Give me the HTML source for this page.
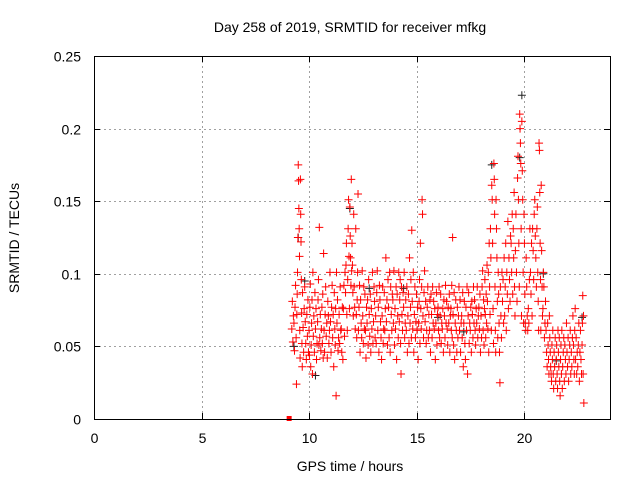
<!DOCTYPE html>
<html><head><meta charset="utf-8"><style>
body{margin:0;background:#fff}
svg text{font-family:"Liberation Sans",sans-serif;font-size:14px;fill:#000}
</style></head><body>
<svg id="chart" width="640" height="480" viewBox="0 0 640 480" xmlns="http://www.w3.org/2000/svg">
<rect width="640" height="480" fill="#fff"/>
<text x="350" y="32" text-anchor="middle">Day 258 of 2019, SRMTID for receiver mfkg</text>
<text x="350" y="471" text-anchor="middle">GPS time / hours</text>
<text transform="translate(19,238) rotate(-90)" text-anchor="middle">SRMTID / TECUs</text>
<g id="grid"></g>
<g id="ticks"></g>
<g id="marks"></g>
<rect x="94.5" y="56.5" width="516" height="363" fill="none" stroke="#000" stroke-width="1"/>
</svg>
<script>
const xTicks=[0,5,10,15,20];
const yTicks=[0,0.05,0.1,0.15,0.2,0.25];
const yTickLabels=["0","0.05","0.1","0.15","0.2","0.25"];
const hours=[9.2,9.3,9.4,9.5,9.6,9.7,9.8,9.9,10.0,10.1,10.2,10.3,10.4,10.5,10.6,10.7,10.8,10.9,11.0,11.1,11.2,11.3,11.4,11.5,11.6,11.7,11.8,11.9,12.0,12.1,12.2,12.3,12.4,12.5,12.6,12.7,12.8,12.9,13.0,13.1,13.2,13.3,13.4,13.5,13.6,13.7,13.8,13.9,14.0,14.1,14.2,14.3,14.4,14.5,14.6,14.7,14.8,14.9,15.0,15.1,15.2,15.3,15.4,15.5,15.6,15.7,15.8,15.9,16.0,16.1,16.2,16.3,16.4,16.5,16.6,16.7,16.8,16.9,17.0,17.1,17.2,17.3,17.4,17.5,17.6,17.7,17.8,17.9,18.0,18.1,18.2,18.3,18.4,18.5,18.6,18.7,18.8,18.9,19.0,19.1,19.2,19.3,19.4,19.5,19.6,19.7,19.8,19.9,20.0,20.1,20.2,20.3,20.4,20.5,20.6,20.7,20.8,20.9,21.0,21.1,21.2,21.3,21.4,21.5,21.6,21.7,21.8,21.9,22.0,22.1,22.2,22.3,22.4,22.5,22.6,22.7];
const srmtid=[[.062,.081,.053,.071],[.066,.047,.077,.092],[.056,.024,.072,.086,.101,.125],[.175,.164,.145,.131,.112,.061,.042],[.165,.141,.122,.096,.073,.052,.036],[.087,.063,.046,.076],[.091,.067,.052,.041],[.072,.057,.082,.046],[.061,.044,.077,.093,.036],[.051,.066,.082,.031,.101],[.057,.071,.046,.087],[.062,.076,.041,.052],[.067,.082,.096,.051,.132],[.056,.072,.047,.062],[.077,.052,.086,.042,.114],[.061,.046,.072,.091],[.057,.066,.042,.081],[.071,.052,.061,.101],[.067,.046,.077,.092],[.056,.072,.036,.087],[.062,.051,.076,.016,.101],[.066,.082,.047,.056],[.072,.052,.091,.061],[.062,.046,.077,.041],[.076,.092,.057,.101],[.087,.106,.121,.072,.061],[.096,.131,.151,.112,.076],[.146,.126,.111,.092,.165,.102],[.121,.106,.087,.071,.141],[.091,.077,.062,.131],[.072,.056,.082,.101,.155],[.061,.077,.092,.046],[.082,.066,.056,.102],[.071,.052,.091,.062],[.086,.061,.042,.077],[.066,.082,.051,.096],[.072,.057,.086,.046],[.076,.062,.101,.052],[.067,.091,.081,.056],[.071,.052,.087,.102],[.061,.077,.046,.092],[.082,.067,.056,.041],[.071,.091,.052,.062],[.087,.061,.076,.111],[.067,.082,.051,.096],[.077,.056,.101,.046],[.091,.072,.061,.086],[.082,.066,.102,.051],[.076,.062,.091,.041],[.086,.071,.056,.101],[.067,.082,.096,.052,.031],[.091,.072,.061,.087],[.077,.101,.056,.066],[.082,.061,.091,.046],[.071,.086,.052,.111],[.066,.077,.096,.056,.13],[.081,.062,.101,.046],[.072,.091,.056,.067],[.086,.061,.077,.041],[.066,.081,.096,.052,.121],[.076,.062,.091,.151,.141],[.071,.056,.087,.102],[.067,.081,.052,.061],[.077,.091,.056,.072],[.061,.082,.046,.086],[.072,.056,.091,.066],[.081,.062,.076,.041],[.066,.087,.051,.072],[.077,.061,.091,.056],[.071,.086,.052,.066],[.062,.076,.046,.082],[.071,.056,.092,.066],[.081,.062,.051,.077],[.066,.086,.046,.071],[.076,.061,.092,.056,.125],[.072,.051,.087,.041],[.066,.082,.061,.046],[.077,.056,.071,.091],[.061,.082,.046,.066],[.071,.056,.087,.036],[.066,.081,.052,.041],[.077,.061,.091,.031],[.071,.087,.052,.066],[.061,.077,.046,.081],[.072,.056,.091,.066],[.082,.061,.051,.076],[.066,.091,.056,.071],[.077,.062,.086,.046],[.071,.056,.091,.102],[.061,.082,.051,.076,.096],[.072,.056,.086,.066,.106],[.081,.062,.101,.046,.121],[.091,.072,.131,.111,.061],[.161,.151,.121,.076,.052],[.176,.165,.141,.091,.061,.046],[.151,.131,.111,.081,.056],[.101,.086,.066,.046,.025],[.091,.071,.056,.101],[.081,.096,.066,.111],[.071,.091,.121,.061],[.101,.086,.136,.076],[.111,.096,.081,.126],[.121,.101,.141,.086],[.131,.111,.156,.091,.071],[.116,.141,.101,.081],[.166,.181,.151,.121,.091],[.21,.2,.19,.176,.131,.071],[.205,.171,.151,.101,.066],[.141,.121,.086,.066,.061],[.111,.091,.071,.061],[.076,.066,.096,.131],[.101,.086,.121,.071],[.131,.116,.096,.141],[.151,.126,.111,.091],[.131,.146,.101,.081,.061],[.19,.185,.156,.121,.096,.061],[.161,.116,.091,.071,.076],[.101,.091,.056,.066],[.081,.061,.046,.036],[.066,.051,.041,.031,.071],[.056,.046,.036,.031,.026],[.051,.041,.061,.031,.021],[.046,.036,.056,.026],[.041,.051,.031,.021,.061],[.046,.036,.056,.026,.016],[.041,.051,.031,.061,.021],[.036,.046,.056,.026],[.051,.041,.031,.066],[.046,.036,.056,.026],[.041,.051,.061,.031],[.046,.036,.056,.071],[.051,.041,.031,.061,.076],[.041,.056,.031,.046],[.036,.051,.066,.026],[.046,.061,.041,.031],[.051,.066,.085,.031,.071,.011]];
const blackHours=[9.3,9.5,9.8,10.3,11.9,12.8,14.4,16.0,17.2,18.5,19.8,19.9,20.9,21.5,22.7];
const blackVals=[.05,.125,.095,.03,.145,.09,.09,.07,.06,.175,.18,.223,.1,.04,.07];
const X0=94,X1=610,XMAX=24,Y0=419,Y1=56,YMAX=0.25;
function xs(h){return X0+(X1-X0)*h/XMAX;}
function ys(v){return Y0-(Y0-Y1)*v/YMAX;}
const NS="http://www.w3.org/2000/svg";
const grid=document.getElementById('grid'),ticks=document.getElementById('ticks'),marks=document.getElementById('marks');
function mk(tag,attrs,parent){const e=document.createElementNS(NS,tag);for(const k in attrs)e.setAttribute(k,attrs[k]);parent.appendChild(e);return e;}
xTicks.forEach(t=>{const x=Math.round(xs(t))+0.5;
 if(t>0){const g=mk('line',{x1:x,x2:x,y1:Y1,y2:Y0,stroke:'#a0a0a0','stroke-dasharray':'2,3'},grid);
 
 }
 mk('line',{x1:x,x2:x,y1:Y0,y2:Y0-6,stroke:'#000'},ticks);mk('line',{x1:x,x2:x,y1:Y1,y2:Y1+6,stroke:'#000'},ticks);
 const l=mk('text',{x:x,y:443,'text-anchor':'middle'},ticks);l.textContent=String(t);
 
 });
yTicks.forEach((t,i)=>{const y=Math.round(ys(t))+0.5;
 if(t>0&&t<YMAX){const g=mk('line',{x1:X0,x2:X1,y1:y,y2:y,stroke:'#a0a0a0','stroke-dasharray':'2,3'},grid);
 
 }
 mk('line',{x1:X0,x2:X0+6,y1:y,y2:y,stroke:'#000'},ticks);mk('line',{x1:X1,x2:X1-6,y1:y,y2:y,stroke:'#000'},ticks);
 const l=mk('text',{x:81,y:y+5,'text-anchor':'end'},ticks);l.textContent=yTickLabels[i];
 
 });
function plus(x,y,c,name){const p=mk('path',{d:`M${x-4},${y}h8M${x},${y-4}v8`,stroke:c,'stroke-width':1,fill:'none'},marks);
 
 }
blackHours.forEach((h,i)=>plus(xs(h),ys(blackVals[i]),'#202020','srmtid-point-alt'));
hours.forEach((h,i)=>{const vs=srmtid[i];vs.forEach((v,j)=>{plus(xs(h+0.1*j/vs.length),ys(v),'#ff0000','srmtid-point');});});
const sq=mk('rect',{x:xs(9.1)-3,y:Y0-3,width:5,height:5,fill:'#ff0000'},marks);


</script>
</body></html>
